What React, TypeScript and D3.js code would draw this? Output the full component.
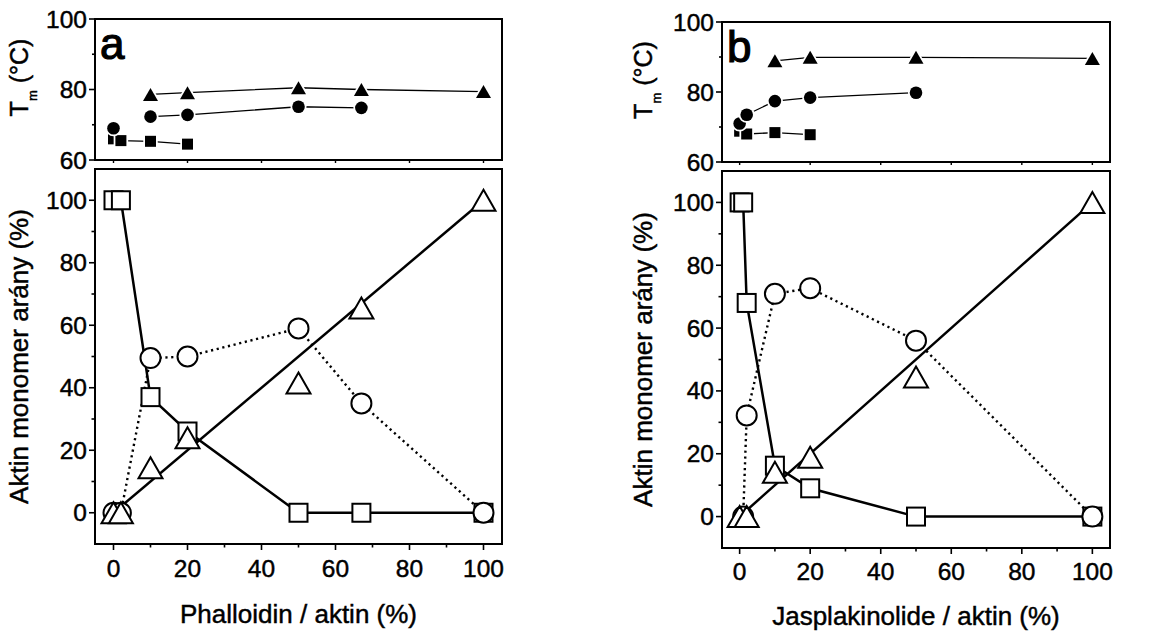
import React, { useEffect, useRef } from "react";
import * as d3 from "d3";

// panel a - phalloidin : melting temperatures (top)
const phTmTriX = [10, 20, 50, 67, 100];
const phTmTriY = [78.6, 79.1, 80.5, 80.0, 79.4];
const phTmCircX = [10, 20, 50, 67];
const phTmCircY = [72.3, 72.8, 75.1, 74.8];
const phTmSqX = [0, 2, 10, 20];
const phTmSqY = [66, 65.5, 65.3, 64.5];
const phTmLooseX = [0];
const phTmLooseY = [69];

// panel a - monomer fractions (bottom)
const phX = [0, 2, 10, 20, 50, 67, 100];
const phSquares = [100, 100, 37, 26, 0, 0, 0];
const phCircles = [0, 0, 49.5, 50, 59, 35, 0];
const phTriangles = [0, 0, 14.4, 24, 41.5, 65.5, 100];

// panel b - jasplakinolide : melting temperatures (top)
const jaTmTriX = [10, 20, 50, 100];
const jaTmTriY = [88.9, 89.9, 89.9, 89.6];
const jaTmCircX = [0, 2, 10, 20, 50];
const jaTmCircY = [71, 73.5, 77.4, 78.4, 79.8];
const jaTmSqX = [0, 2, 10, 20];
const jaTmSqY = [68.8, 68, 68.4, 67.8];

// panel b - monomer fractions (bottom)
const jaSqX = [0, 1, 2, 10, 20, 50, 100];
const jaSquares = [100, 100, 68, 16.2, 9, 0, 0];
const jaCircX = [1, 2, 10, 20, 50, 100];
const jaCircles = [0, 32.2, 70.9, 72.7, 56, 0];
const jaTriX = [0, 2, 10, 20, 50, 100];
const jaTriangles = [0, 0, 14.1, 18.9, 44.4, 100];

// straight fit drawn through the triangles
const fitX = [0, 100];
const fitY = [0, 100];

const yTitle = "Aktin monomer arány (%)";
const font = "'Liberation Sans', Arial, Helvetica, sans-serif";

const zip = (xs: number[], ys: number[]) => xs.map((v, i) => [v, ys[i]] as [number, number]);

const panels = [
  {
    letter: "a",
    xTitle: "Phalloidin / aktin (%)",
    left: 95, right: 502,
    tmTop: 19, tmBot: 160, frTop: 169, frBot: 544,
    xTickY: 577, xTitleY: 623, titleX: 28,
    tmTri: zip(phTmTriX, phTmTriY),
    tmCirc: zip(phTmCircX, phTmCircY),
    tmSq: zip(phTmSqX, phTmSqY),
    tmLoose: zip(phTmLooseX, phTmLooseY),
    sq: zip(phX, phSquares),
    circ: zip(phX, phCircles),
    tri: zip(phX, phTriangles),
  },
  {
    letter: "b",
    xTitle: "Jasplakinolide / aktin (%)",
    left: 722, right: 1110,
    tmTop: 22, tmBot: 162, frTop: 171, frBot: 548,
    xTickY: 580, xTitleY: 625, titleX: 652,
    tmTri: zip(jaTmTriX, jaTmTriY),
    tmCirc: zip(jaTmCircX, jaTmCircY),
    tmSq: zip(jaTmSqX, jaTmSqY),
    tmLoose: [] as [number, number][],
    sq: zip(jaSqX, jaSquares),
    circ: zip(jaCircX, jaCircles),
    tri: zip(jaTriX, jaTriangles),
  },
];

const triPath = (w: number, h: number) => `M0,${-h / 2}L${w / 2},${h / 2}L${-w / 2},${h / 2}Z`;

// scanned print: give the glyphs a slightly heavier look
const ink = (sel: any, size: number, w = 0.45) =>
  sel.attr("font-size", size).attr("font-family", font)
    .attr("fill", "#000").attr("stroke", "#000").attr("stroke-width", w);

function drawPanel(svg: any, p: any) {
  const g = svg.append("g");
  const x = d3.scaleLinear().domain([-5, 105]).range([p.left, p.right]);
  const yT = d3.scaleLinear().domain([60, 100]).range([p.tmBot, p.tmTop]);
  const yB = d3.scaleLinear().domain([-10, 110]).range([p.frBot, p.frTop]);

  // frames
  [[p.tmTop, p.tmBot], [p.frTop, p.frBot]].forEach(([t, b]) => {
    g.append("rect")
      .attr("x", p.left).attr("y", t)
      .attr("width", p.right - p.left).attr("height", b - t)
      .attr("fill", "none").attr("stroke", "#000").attr("stroke-width", 2);
  });

  // top panel ticks
  d3.range(60, 101, 10).forEach((v) => {
    const major = v % 20 === 0;
    g.append("line")
      .attr("x1", p.left - (major ? 6 : 3)).attr("x2", p.left)
      .attr("y1", yT(v)).attr("y2", yT(v))
      .attr("stroke", "#000").attr("stroke-width", 1.6);
    if (major)
      ink(g.append("text"), 24.5)
        .attr("x", p.left - 8).attr("y", yT(v) + 8.5)
        .attr("text-anchor", "end")
        .text(v);
  });
  d3.range(0, 101, 20).forEach((v) => {
    g.append("line")
      .attr("x1", x(v)).attr("x2", x(v))
      .attr("y1", p.tmBot).attr("y2", p.tmBot + 3)
      .attr("stroke", "#000").attr("stroke-width", 1.4);
  });

  // bottom panel ticks
  d3.range(0, 101, 10).forEach((v) => {
    const major = v % 20 === 0;
    g.append("line")
      .attr("x1", p.left - (major ? 6 : 3.5)).attr("x2", p.left)
      .attr("y1", yB(v)).attr("y2", yB(v))
      .attr("stroke", "#000").attr("stroke-width", 1.6);
    g.append("line")
      .attr("x1", x(v)).attr("x2", x(v))
      .attr("y1", p.frBot).attr("y2", p.frBot + (major ? 6 : 3.5))
      .attr("stroke", "#000").attr("stroke-width", 1.6);
    if (major) {
      ink(g.append("text"), 24.5)
        .attr("x", p.left - 8).attr("y", yB(v) + 8.5)
        .attr("text-anchor", "end")
        .text(v);
      ink(g.append("text"), 24.5)
        .attr("x", x(v)).attr("y", p.xTickY)
        .attr("text-anchor", "middle")
        .text(v);
    }
  });

  // titles
  ink(g.append("text"), 26)
    .attr("x", (p.left + p.right) / 2).attr("y", p.xTitleY)
    .attr("text-anchor", "middle")
    .text(p.xTitle);
  ink(g.append("text"), 26)
    .attr("transform", `translate(${p.titleX},${(p.frTop + p.frBot) / 2}) rotate(-90)`)
    .attr("text-anchor", "middle")
    .text(yTitle);
  const tm = ink(g.append("text"), 25)
    .attr("transform", `translate(${p.titleX},${(p.tmTop + p.tmBot) / 2 - 12}) rotate(-90)`)
    .attr("text-anchor", "middle");
  tm.append("tspan").text("T");
  tm.append("tspan").attr("font-size", 13).attr("dy", 9).text("m");
  tm.append("tspan").attr("dy", -9).text(" (°C)");

  // panel letter
  ink(g.append("text"), 44, 1.2)
    .attr("x", p.left + 5).attr("y", p.tmTop + 40)
    .text(p.letter);

  // ---- top panel: Tm series ----
  const lineT = d3.line<[number, number]>().x((d) => x(d[0])).y((d) => yT(d[1]));
  [p.tmSq, p.tmCirc, p.tmTri].forEach((s: [number, number][]) => {
    g.append("path").attr("d", lineT(s))
      .attr("fill", "none").attr("stroke", "#000").attr("stroke-width", 1.3);
  });
  const halo = (sel: any) =>
    sel.attr("fill", "#000").attr("stroke", "#fff").attr("stroke-width", 3.5).attr("paint-order", "stroke");
  p.tmSq.forEach((d: [number, number]) => {
    halo(g.append("rect").attr("x", x(d[0]) - 5.5).attr("y", yT(d[1]) - 5.5).attr("width", 11).attr("height", 11));
  });
  [...p.tmCirc, ...p.tmLoose].forEach((d: [number, number]) => {
    halo(g.append("circle").attr("cx", x(d[0])).attr("cy", yT(d[1])).attr("r", 6.3));
  });
  p.tmTri.forEach((d: [number, number]) => {
    halo(g.append("path").attr("d", triPath(15, 13)).attr("transform", `translate(${x(d[0])},${yT(d[1])})`));
  });

  // ---- bottom panel: monomer fractions ----
  const lineB = d3.line<[number, number]>().x((d) => x(d[0])).y((d) => yB(d[1]));
  g.append("path").attr("d", lineB(zip(fitX, fitY)))
    .attr("fill", "none").attr("stroke", "#000").attr("stroke-width", 2.5);
  g.append("path").attr("d", lineB(p.sq))
    .attr("fill", "none").attr("stroke", "#000").attr("stroke-width", 2.5);
  g.append("path").attr("d", lineB(p.circ))
    .attr("fill", "none").attr("stroke", "#000").attr("stroke-width", 2.4)
    .attr("stroke-dasharray", "2.2,3.6");

  const open = (sel: any) => sel.attr("fill", "#fff").attr("stroke", "#000").attr("stroke-width", 2);
  p.sq.forEach((d: [number, number]) => {
    open(g.append("rect").attr("x", x(d[0]) - 9).attr("y", yB(d[1]) - 9).attr("width", 18).attr("height", 18));
  });
  p.circ.forEach((d: [number, number]) => {
    open(g.append("circle").attr("cx", x(d[0])).attr("cy", yB(d[1])).attr("r", 10));
  });
  p.tri.forEach((d: [number, number]) => {
    open(g.append("path").attr("d", triPath(24, 21)).attr("transform", `translate(${x(d[0])},${yB(d[1])})`));
  });
}

export default function App() {
  const ref = useRef<SVGSVGElement>(null);

  useEffect(() => {
    const svg = d3.select(ref.current);
    svg.selectAll("*").remove();
    panels.forEach((p) => drawPanel(svg, p));
  }, []);

  return (
    <svg
      ref={ref}
      width={1170}
      height={636}
      style={{ position: "absolute", left: 0, top: 0, background: "#fff" }}
    />
  );
}
